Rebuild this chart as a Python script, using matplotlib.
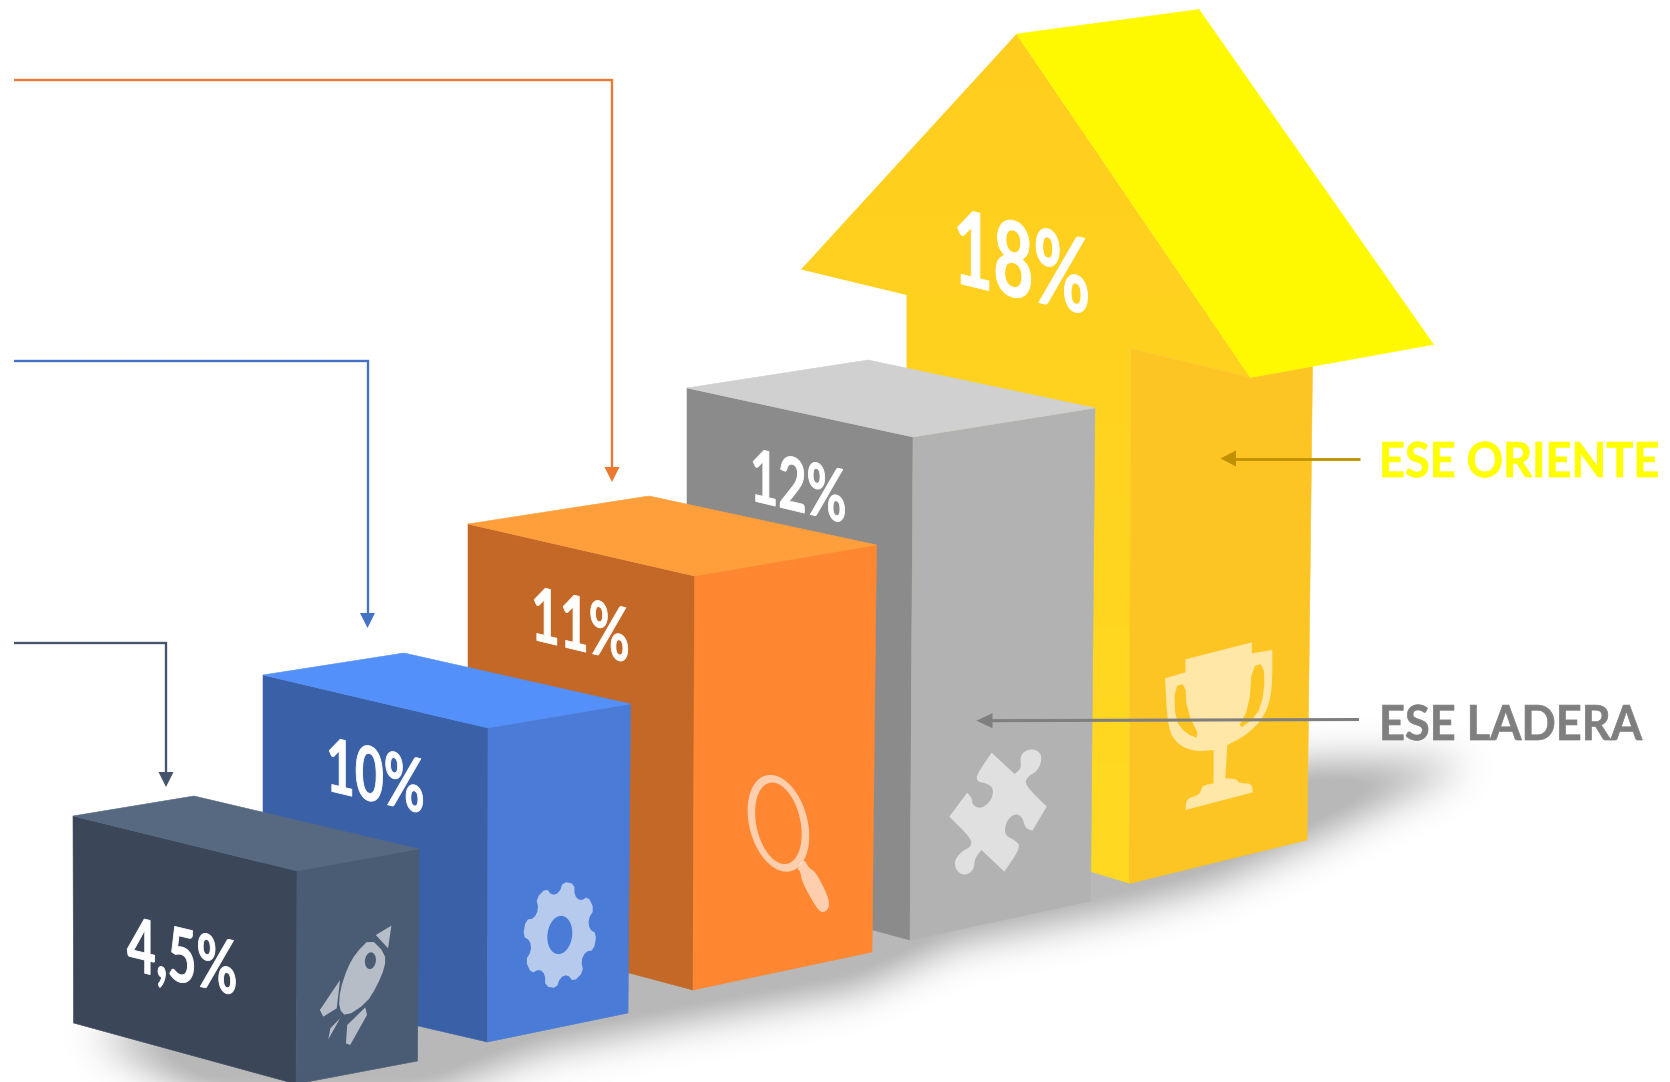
import numpy as np
import matplotlib
matplotlib.use("Agg")
import matplotlib.pyplot as plt
from matplotlib.patches import Polygon, PathPatch
from matplotlib.path import Path
from matplotlib.patheffects import AbstractPathEffect
from matplotlib.transforms import Affine2D

W, H = 1670, 1082

# ── data ────────────────────────────────────────────────────────────────
values = [4.5, 10, 11, 12, 18]
series_names = ["ESE LADERA", "ESE ORIENTE"]
face_colors = ["#3B4759", "#3A61A8", "#C46827", "#8B8B8B", "#FFD31E"]
side_colors = ["#4A5B74", "#4A7BD6", "#FF8732", "#B2B2B2", "#FDC524"]
top_colors = ["#566981", "#5490F9", "#FF9F3C", "#D0D0D0", "#FFF900"]

# ── picture geometry, in reference pixels ───────────────────────────────
BOXES = [
    # top-left, top-back, top-right, top-front, bottom-right, bottom-front, bottom-left
    [(73, 816), (194, 796), (419, 849), (297, 871), (417.5, 1061), (296, 1084), (73.5, 1023)],
    [(263, 675), (404, 653), (630.5, 704), (488, 728), (628, 1013), (487.5, 1042), (263, 990)],
    [(468, 524), (649, 496), (876.5, 545), (694.5, 576), (872, 952), (693, 990), (468, 930)],
    [(687, 388), (868, 360), (1095, 408), (913, 437), (1090.5, 901), (910, 940), (687, 880)],
]
ARROW_FRONT = [(1016.5, 34), (801, 269.5), (906.5, 295), (906.5, 600), (1091.5, 872),
               (1129.5, 883.5), (1130.5, 348.5), (1250.5, 377.5)]
ARROW_SIDE = [(1130.5, 348.5), (1250.5, 377.5), (1312.5, 366.5), (1307, 840), (1129.5, 883.5)]
ARROW_TOP = [(1016.5, 34), (1199, 9.5), (1433.5, 344.5), (1250.5, 377.5)]

LABEL_POS = [(127, 969), (326, 790), (531, 639), (750, 500), (953, 282)]
LABEL_SIZE = [46, 46, 46, 45, 64]

SHADOW = [(90, 1035), (200, 1095), (430, 1095), (540, 1052), (690, 1022), (860, 990), (955, 945),
          (1125, 910), (1215, 885), (1320, 838), (1475, 762), (1310, 762), (1100, 850), (400, 1000)]

CALLOUTS = [
    (643, 166, 787, "#44546A"),
    (361, 367.5, 628, "#4472C4"),
    (80, 612, 482, "#EB7A30"),
]


def zoom1(pts):
    return [(x / 2.376, 620 + y / 3) for x, y in pts]


def zoom2(pts):
    return [(x / 1.96 + 660, 620 + y / 3) for x, y in pts]


ROCKET_NOSE = [(930, 917), (893, 945), (922, 985)]
ROCKET_BODY = [(880, 955), (915, 1000), (915, 1040), (895, 1100), (870, 1150), (822, 1190), (805, 1165),
               (808, 1110), (825, 1045), (845, 1000)]
ROCKET_FINS = [
    [(808, 1080), (800, 1165), (768, 1190), (760, 1170)],
    [(868, 1162), (872, 1185), (832, 1275), (822, 1270), (825, 1215)],
    [(808, 1195), (780, 1258), (785, 1225)],
]
PUZZLE = [(650, 398), (695, 462), (708, 445), (706, 415), (712, 395), (730, 386), (746, 398), (748, 425),
          (738, 455), (720, 470), (715, 495), (758, 560), (730, 632), (716, 625), (710, 590), (695, 580),
          (678, 605), (675, 645), (695, 660), (708, 680), (675, 755), (630, 690), (617, 715), (615, 750),
          (598, 767), (582, 755), (576, 725), (590, 695), (610, 680), (610, 655), (567, 590), (602, 518),
          (612, 535), (612, 555), (630, 567), (650, 540), (654, 505), (640, 490), (622, 485), (620, 465)]
PUZZLE_SHARP = {(650, 398), (758, 560), (675, 755), (567, 590), (695, 462), (630, 690), (602, 518), (730, 632)}
TROPHY = [(1030, 118), (1160, 67), (1160, 100), (1200, 90), (1200, 215), (1185, 290), (1150, 345), (1112, 375),
          (1108, 475), (1130, 477), (1135, 490), (1160, 490), (1162, 517), (1030, 570), (1032, 535), (1058, 525),
          (1062, 497), (1085, 490), (1085, 390), (1050, 395), (1015, 375), (995, 325), (990, 175), (1030, 157)]
TROPHY_SHARP = {(1030, 118), (1160, 67), (1160, 100), (1200, 90), (990, 175), (1030, 157), (1162, 517), (1030, 570),
                (1108, 475), (1085, 490), (1085, 390), (1112, 375)}
TROPHY_HOLES = [
    [(1008, 200), (1030, 190), (1032, 270), (1060, 358), (1030, 340), (1010, 300)],
    [(1160, 140), (1183, 130), (1185, 215), (1170, 290), (1130, 332), (1155, 260)],
]
MAG_HANDLE = [(268, 748), (282, 715), (292, 745), (305, 755), (330, 830), (332, 865), (318, 880), (305, 860),
              (278, 785), (275, 752)]


class Sheared(AbstractPathEffect):
    """Draw the glyphs narrowed, stretched and sheared onto a box face, slightly emboldened."""

    def __init__(self, sx, sy, k, bold=0.6):
        super().__init__()
        self.m = Affine2D.from_values(sx, k * sx, 0, sy, 0, 0)
        self.bold = bold

    def draw_path(self, renderer, gc, tpath, affine, rgbFace=None):
        gc0 = renderer.new_gc()
        gc0.copy_properties(gc)
        gc0.set_foreground(rgbFace)
        gc0.set_linewidth(self.bold)
        gc0.set_joinstyle("round")
        renderer.draw_path(gc0, tpath, self.m + affine, rgbFace)
        gc0.restore()


def chaikin(pts, n=2, sharp=()):
    sharp = set(sharp)
    pts = [tuple(map(float, p)) for p in pts]
    for _ in range(n):
        out = []
        m = len(pts)
        for i, p in enumerate(pts):
            if p in sharp:
                out.append(p)
                continue
            a, b = pts[i - 1], pts[(i + 1) % m]
            out.append((0.75 * p[0] + 0.25 * a[0], 0.75 * p[1] + 0.25 * a[1]))
            out.append((0.75 * p[0] + 0.25 * b[0], 0.75 * p[1] + 0.25 * b[1]))
        pts = out
    return pts


def area(pts):
    x, y = np.array(pts).T
    return np.sum(x * np.roll(y, -1) - np.roll(x, -1) * y)


def compound(outer, *holes):
    verts, codes = [], []
    sign = area(outer)
    for i, ring in enumerate((outer,) + holes):
        ring = list(ring)
        if i and area(ring) * sign > 0:
            ring = ring[::-1]
        verts += ring + [ring[0]]
        codes += [Path.MOVETO] + [Path.LINETO] * (len(ring) - 1) + [Path.CLOSEPOLY]
    return Path(verts, codes)


def ellipse(cx, cy, a, b, k=0.0, m=0.0, n=72):
    t = np.linspace(0, 2 * np.pi, n, endpoint=False)
    x, y = a * np.cos(t), b * np.sin(t)
    return list(zip(cx + x + m * y, cy + y + k * x))


def gear(cx, cy, a, b, k, teeth=8):
    pts = []
    step = 2 * np.pi / teeth
    for i in range(teeth):
        for off, r in [(-0.34, 0.80), (-0.2, 1.0), (0.2, 1.0), (0.34, 0.80)]:
            t = (i + off) * step + 0.25
            x = a * r * np.cos(t)
            pts.append((cx + x, cy + b * r * np.sin(t) + k * x))
    return chaikin(pts, 1)


def icon(ax, path):
    ax.add_patch(PathPatch(path, fc="white", ec="none", alpha=0.6, zorder=6))


def closed(pts):
    return Path(list(pts) + [pts[0]])


def poly(ax, pts, color, z):
    ax.add_patch(Polygon(pts, closed=True, fc=color, ec=color, lw=0.4, zorder=z))


def draw_shadow(ax):
    step = 4
    gx, gy = np.meshgrid(np.arange(0, W + 240, step) - 120 + step / 2, np.arange(0, H + 240, step) - 120 + step / 2)
    grid = np.c_[gx.ravel(), gy.ravel()]
    mask = Path(SHADOW).contains_points(grid).reshape(gx.shape).astype(float)
    r = np.arange(-15, 16)
    kern = np.exp(-0.5 * (r / 5.0) ** 2)
    kern /= kern.sum()
    mask = np.apply_along_axis(lambda v: np.convolve(v, kern, mode="same"), 0, mask)
    mask = np.apply_along_axis(lambda v: np.convolve(v, kern, mode="same"), 1, mask)
    rgba = np.zeros(mask.shape + (4,))
    rgba[..., 3] = np.clip(mask * 0.36, 0, 0.28)
    ax.imshow(rgba, extent=(-120, W + 120, H + 120, -120), interpolation="bilinear", zorder=1, aspect="auto")


def arrow_line(ax, pts, tip, base, half, color, lw, vertical=False):
    x, y = zip(*pts)
    ax.plot(x, y, color=color, lw=lw, solid_joinstyle="miter", solid_capstyle="butt", zorder=8)
    if vertical:
        head = [(tip[0], tip[1]), (tip[0] - half, base), (tip[0] + half, base)]
    else:
        head = [(tip[0], tip[1]), (base, tip[1] - half), (base, tip[1] + half)]
    ax.add_patch(Polygon(head, closed=True, fc=color, ec="none", zorder=8))


def main():
    plt.rcParams["font.family"] = ["Lato", "DejaVu Sans"]
    fig = plt.figure(figsize=(W / 100, H / 100), dpi=100)
    ax = fig.add_axes([0, 0, 1, 1])
    draw_shadow(ax)
    ax.set_xlim(0, W)
    ax.set_ylim(H, 0)
    ax.axis("off")

    # big arrow at the back
    grad = np.linspace(0, 1, 256)[:, None, None] * (np.array([255, 218, 34]) - np.array([255, 205, 30])) \
        + np.array([255, 205, 30])
    front = Polygon(ARROW_FRONT, closed=True, fc="none", ec="none", zorder=2)
    ax.add_patch(front)
    im = ax.imshow(grad.astype(np.uint8), extent=(780, 1270, 900, 20), aspect="auto", zorder=2)
    im.set_clip_path(front)
    ax.set_xlim(0, W)
    ax.set_ylim(H, 0)
    poly(ax, ARROW_SIDE, side_colors[4], 2.1)
    poly(ax, ARROW_TOP, top_colors[4], 2.2)

    # boxes, back to front
    for i in range(3, -1, -1):
        tl, tb, tr, tf, br, bf, bl = BOXES[i]
        z = 3 + (3 - i) * 0.1
        poly(ax, [tl, tf, bf, bl], face_colors[i], z)
        poly(ax, [tf, tr, br, bf], side_colors[i], z)
        poly(ax, [tl, tb, tr, tf], top_colors[i], z)

    # values on the front faces
    for i, v in enumerate(values):
        txt = f"{v:g}".replace(".", ",") + "%"
        x, y = LABEL_POS[i]
        ax.text(x, y, txt, color="white", fontsize=LABEL_SIZE[i], fontweight="bold",
                ha="left", va="baseline", zorder=7,
                path_effects=[Sheared(0.78, 1.17, -0.24, bold=0.6)])

    # icons
    icon(ax, closed(zoom1(ROCKET_NOSE)))
    icon(ax, compound(chaikin(zoom1(ROCKET_BODY), 1), ellipse(370.4, 960.7, 5.5, 8.3, -0.17)))
    for part in ROCKET_FINS:
        icon(ax, closed(zoom1(part)))
    icon(ax, compound(gear(559.8, 935, 37, 53, -0.17), ellipse(559.8, 935, 12.5, 19, -0.17)))
    icon(ax, compound(ellipse(778.4, 823.3, 30.5, 48, 0.2, 0.09), ellipse(778.4, 823.3, 23, 40.5, 0.2, 0.09)))
    icon(ax, closed(chaikin(zoom2(MAG_HANDLE), 2)))
    icon(ax, closed(chaikin(zoom2(PUZZLE), 2, zoom2(PUZZLE_SHARP))))
    icon(ax, compound(chaikin(zoom2(TROPHY), 2, zoom2(TROPHY_SHARP)), *[chaikin(zoom2(h), 1) for h in TROPHY_HOLES]))

    # callouts from the left
    for y0, xc, y1, col in CALLOUTS:
        arrow_line(ax, [(14, y0), (xc, y0), (xc, y1 - 10)], (xc, y1), y1 - 15, 7.5, col, 1.7, vertical=True)

    # series labels
    arrow_line(ax, [(1359.5, 458.5), (1230, 458.5)], (1220.5, 458.5), 1236, 8, "#BF9000", 2.0)
    arrow_line(ax, [(1359, 719.5), (985, 720.7)], (976.5, 720.7), 992.5, 7.5, "#7F7F7F", 2.2)
    ax.text(1379, 477, series_names[1], color="#FFFF00", fontsize=32.5, fontweight="bold", ha="left", va="baseline",
            zorder=8, path_effects=[Sheared(1.0, 1.07, 0, bold=0.5)])
    ax.text(1379, 740, series_names[0], color="#7F7F7F", fontsize=32.5, fontweight="bold", ha="left", va="baseline",
            zorder=8, path_effects=[Sheared(1.0, 1.07, 0, bold=0.5)])

    fig.savefig("out.png", dpi=100, facecolor="white")


if __name__ == "__main__":
    main()
